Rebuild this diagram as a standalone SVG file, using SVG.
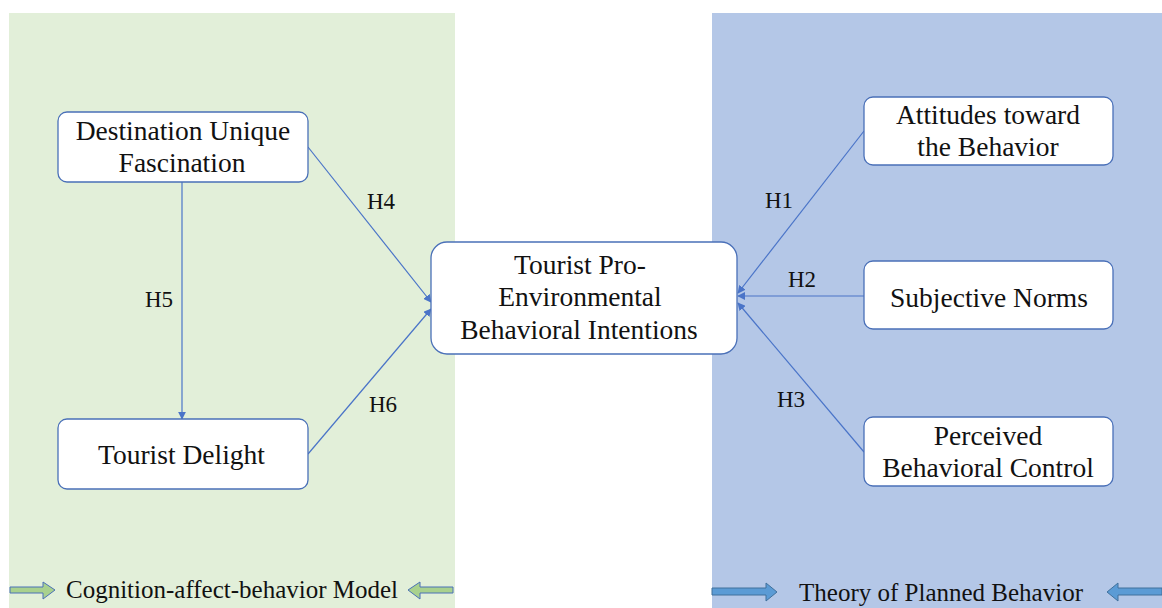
<svg xmlns="http://www.w3.org/2000/svg" width="1162" height="608" viewBox="0 0 1162 608">
<defs>
<style>
.node{fill:#ffffff;stroke:#4a70b8;stroke-width:1.3}
text{font-family:'Liberation Serif','Times New Roman',serif;fill:#111;text-anchor:middle}
.t{font-size:27.5px}
.lab{font-size:23px}
.leg{font-size:25px}
.c{stroke:#4a74c8;stroke-width:1.2;fill:none;marker-end:url(#ah)}
</style>
<marker id="ah" viewBox="0 0 10 10" refX="9" refY="5" markerWidth="8" markerHeight="8" markerUnits="userSpaceOnUse" orient="auto">
<path d="M0,0 L10,5 L0,10 z" fill="#4a74c8"/>
</marker>
</defs>
<rect width="1162" height="608" fill="#ffffff"/>
<rect id="panel-cab" x="9" y="13" width="446" height="595" fill="#e2efd9"/>
<rect id="panel-tpb" x="712" y="13" width="450" height="595" fill="#b4c7e7"/>

<g id="connectors">
<line class="c" x1="308" y1="147" x2="431" y2="302"/>
<line class="c" x1="308" y1="454" x2="431" y2="309"/>
<line class="c" x1="182" y1="182" x2="182" y2="419"/>
<line class="c" x1="864" y1="131" x2="738" y2="293"/>
<line class="c" x1="864" y1="296" x2="738" y2="296"/>
<line class="c" x1="864" y1="452" x2="738" y2="303"/>
<text class="lab" x="381" y="209">H4</text>
<text class="lab" x="159" y="307">H5</text>
<text class="lab" x="383" y="412">H6</text>
<text class="lab" x="779" y="208">H1</text>
<text class="lab" x="802" y="287">H2</text>
<text class="lab" x="791" y="407">H3</text>
</g>

<g id="node-dest">
<rect class="node" x="58" y="112" width="250" height="70" rx="9"/>
<text class="t" x="183" y="140">Destination Unique</text>
<text class="t" x="182" y="172">Fascination</text>
</g>
<g id="node-delight">
<rect class="node" x="58" y="419" width="250" height="70" rx="9"/>
<text class="t" x="181.5" y="464">Tourist Delight</text>
</g>
<g id="node-intent">
<rect class="node" x="431" y="242" width="306" height="112" rx="16"/>
<text class="t" x="580" y="274">Tourist Pro-</text>
<text class="t" x="580" y="306">Environmental</text>
<text class="t" x="579" y="339">Behavioral Intentions</text>
</g>
<g id="node-att">
<rect class="node" x="864" y="97" width="249" height="68" rx="9"/>
<text class="t" x="988" y="124">Attitudes toward</text>
<text class="t" x="988" y="156">the Behavior</text>
</g>
<g id="node-sn">
<rect class="node" x="864" y="261" width="249" height="68" rx="9"/>
<text class="t" x="989" y="307">Subjective Norms</text>
</g>
<g id="node-pbc">
<rect class="node" x="864" y="417" width="249" height="69" rx="9"/>
<text class="t" x="988" y="445">Perceived</text>
<text class="t" x="988" y="477">Behavioral Control</text>
</g>

<g id="legend-cab">
<path d="M10,587 H43 V582 L55,590 L43,599 V593 H10 Z" fill="#a9d18e" stroke="#4a70b8" stroke-width="1"/>
<text class="leg" x="232" y="598">Cognition-affect-behavior Model</text>
<path d="M453,587 H420 V582 L408,590 L420,599 V593 H453 Z" fill="#a9d18e" stroke="#4a70b8" stroke-width="1"/>
</g>
<g id="legend-tpb">
<path d="M712,588 H766 V583 L777,592 L766,601 V595 H712 Z" fill="#5b9bd5" stroke="#41719c" stroke-width="1"/>
<text class="leg" x="941" y="601">Theory of Planned Behavior</text>
<path d="M1162,588 H1118 V583 L1107,592 L1118,601 V595 H1162 Z" fill="#5b9bd5" stroke="#41719c" stroke-width="1"/>
</g>
</svg>
